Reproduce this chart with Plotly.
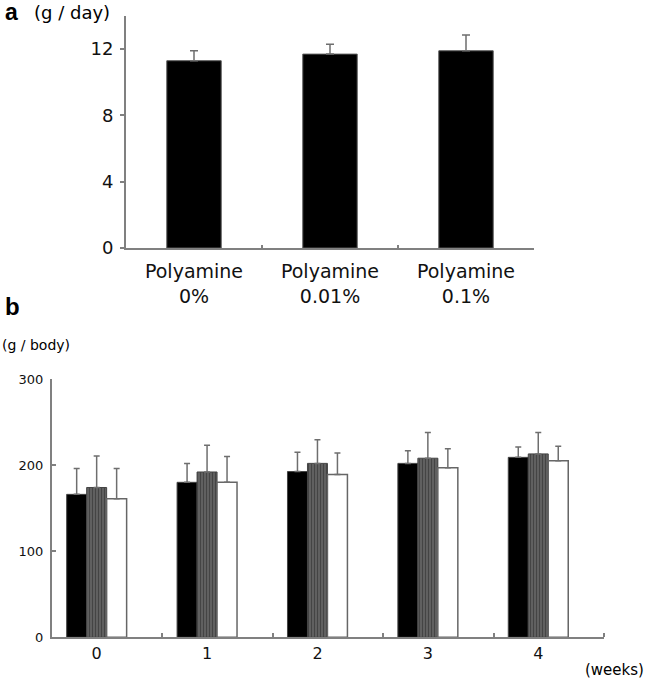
import plotly.graph_objects as go

# ---------- data ----------
# Panel a: daily intake (g / day)
a_categories = ["Polyamine<br>0%", "Polyamine<br>0.01%", "Polyamine<br>0.1%"]
a_values = [11.3, 11.7, 11.9]
a_errors = [0.6, 0.6, 0.95]
a_ticks = [0, 4, 8, 12]

# Panel b: body weight (g / body) by week
b_weeks = [0, 1, 2, 3, 4]
b_week_labels = ["0", "1", "2", "3", "4"]
b_black = [166, 180, 192.5, 202, 209]
b_black_err = [30, 22, 22.5, 14.7, 12]
b_gray = [174, 192, 202, 208, 213]
b_gray_err = [36.5, 31, 27.5, 30, 25]
b_white = [161, 180, 189, 197, 205]
b_white_err = [35, 30, 25, 22, 17]
b_ticks = [0, 100, 200, 300]

W, H = 645, 682
FONT = "DejaVu Sans, sans-serif"
BFONT = "Arial, Liberation Sans, sans-serif"
AXC = "#808080"
ERRC = "#6e6e6e"

fig = go.Figure()

# Panel a
fig.add_trace(go.Bar(
    x=a_categories, y=a_values, width=0.40,
    marker=dict(color="black", line=dict(color="#555", width=1)),
    error_y=dict(type="data", symmetric=False, array=a_errors,
                 arrayminus=[0] * len(a_errors),
                 color=ERRC, thickness=1.5, width=4),
    xaxis="x", yaxis="y", showlegend=False,
))

# Panel b
bw = 0.181
start = -0.367
styles = [
    dict(color="black", line=dict(color="#444", width=1)),
    dict(color="#555555", line=dict(color="#444", width=1),
         pattern=dict(shape="|", size=3, solidity=0.45,
                      fgcolor="#222222", bgcolor="#666666", fillmode="overlay")),
    dict(color="white", line=dict(color="#666", width=1.5)),
]
for i, (vals, errs) in enumerate([(b_black, b_black_err),
                                  (b_gray, b_gray_err),
                                  (b_white, b_white_err)]):
    fig.add_trace(go.Bar(
        x=b_weeks, y=vals, width=bw, offset=start + i * bw,
        marker=styles[i],
        error_y=dict(type="data", symmetric=False, array=errs,
                     arrayminus=[0] * len(errs),
                     color=ERRC, thickness=1.5, width=3),
        xaxis="x2", yaxis="y2", showlegend=False,
    ))

label_shift = -0.095
fig.update_layout(
    width=W, height=H,
    margin=dict(l=0, r=0, t=0, b=0, autoexpand=False),
    paper_bgcolor="white", plot_bgcolor="white",
    font=dict(family=FONT, color="black"),
    barmode="overlay",
    xaxis=dict(domain=[126 / W, 534 / W], anchor="y", automargin=False,
               type="category", tickson="boundaries",
               ticks="inside", ticklen=3, tickcolor=AXC, tickwidth=1.5,
               ticklabelstandoff=5,
               showline=True, linecolor=AXC, linewidth=2,
               showgrid=False, zeroline=False,
               tickfont=dict(size=19, family=FONT, color="#111")),
    yaxis=dict(domain=[1 - 248 / H, 1 - 16 / H], anchor="x", automargin=False,
               range=[0, 14], tickvals=a_ticks,
               ticks="outside", ticklen=4, tickcolor=AXC, tickwidth=1.5,
               ticklabelstandoff=3,
               showline=True, linecolor=AXC, linewidth=2,
               showgrid=False, zeroline=False,
               tickfont=dict(size=18, family=FONT, color="#111")),
    xaxis2=dict(domain=[52 / W, 604 / W], anchor="y2", automargin=False,
                range=[-0.5, 4.5],
                tickvals=[w + label_shift for w in b_weeks], ticktext=b_week_labels,
                ticks="",
                minor=dict(tickvals=[w + 0.5 for w in b_weeks], ticks="inside",
                           ticklen=4, tickcolor=AXC, tickwidth=1.5, showgrid=False),
                showline=True, linecolor=AXC, linewidth=2,
                showgrid=False, zeroline=False,
                tickfont=dict(size=16, family=FONT, color="#111")),
    yaxis2=dict(domain=[1 - 637.3 / H, 1 - 379 / H], anchor="x2", automargin=False,
                range=[0, 300], tickvals=b_ticks,
                ticks="inside", ticklen=4, tickcolor=AXC, tickwidth=1.5,
                ticklabelstandoff=4,
                showline=True, linecolor=AXC, linewidth=2,
                showgrid=False, zeroline=False,
                tickfont=dict(size=13, family=FONT, color="#111")),
)

annots = [
    dict(text="<b>a</b>", x=3 / W, y=1 - 12 / H, xanchor="left", yanchor="middle",
         font=dict(size=23, family=BFONT)),
    dict(text="(g / day)", x=32 / W, y=1 - 13 / H, xanchor="left", yanchor="middle",
         font=dict(size=18, family=FONT)),
    dict(text="<b>b</b>", x=3 / W, y=1 - 306 / H, xanchor="left", yanchor="middle",
         font=dict(size=24, family=BFONT)),
    dict(text="(g / body)", x=0, y=1 - 345 / H, xanchor="left", yanchor="middle",
         font=dict(size=14, family=FONT)),
    dict(text="(weeks)", x=583 / W, y=1 - 670 / H, xanchor="left", yanchor="middle",
         font=dict(size=15, family=FONT)),
]
for a in annots:
    fig.add_annotation(xref="paper", yref="paper", showarrow=False, **a)

fig.write_html(
    "out.html",
    config={"displayModeBar": False},
    post_script="document.body.style.margin='0';document.body.style.padding='0';"
                "document.documentElement.style.overflow='hidden';",
)
